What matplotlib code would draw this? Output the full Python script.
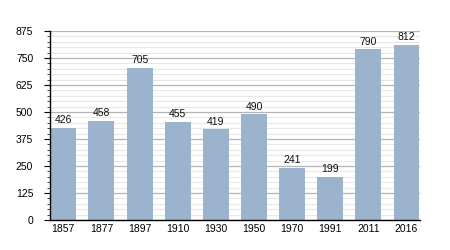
import matplotlib
matplotlib.use("Agg")
import matplotlib.pyplot as plt
from matplotlib.ticker import MultipleLocator

plt.rcParams["font.family"] = ["Liberation Sans", "DejaVu Sans"]

years = ["1857", "1877", "1897", "1910", "1930", "1950", "1970", "1991", "2011", "2016"]
population = [426, 458, 705, 455, 419, 490, 241, 199, 790, 812]
yticks = [0, 125, 250, 375, 500, 625, 750, 875]

fig = plt.figure(figsize=(4.5, 2.5), dpi=100)
ax = fig.add_axes([0.111, 0.12, 0.822, 0.756])

x = list(range(len(years)))
ax.set_axisbelow(True)
ax.yaxis.set_minor_locator(MultipleLocator(25))
ax.grid(axis="y", which="minor", color="#e8e8e8", linewidth=0.8)
ax.grid(axis="y", which="major", color="#b4b4b4", linewidth=0.9)
ax.bar(x, population, width=0.68, color="#9bb3cd")
for xi, v in zip(x, population):
    ax.text(xi, v + 12, str(v), ha="center", va="bottom", fontsize=7.5, color="#111111")

ax.set_xlim(-0.35, 9.35)
ax.set_ylim(0, 875)
ax.set_yticks(yticks)
ax.set_yticklabels([str(t) for t in yticks], fontsize=7.5)
ax.set_xticks(x)
ax.set_xticklabels(years, fontsize=7.5)
ax.tick_params(axis="x", length=0, pad=3)
ax.tick_params(axis="y", which="major", length=4, width=0.8, pad=8)
ax.tick_params(axis="y", which="minor", length=2.5, width=0.5)
for s in ["top", "right"]:
    ax.spines[s].set_visible(False)
ax.spines["left"].set_linewidth(1.0)
ax.spines["bottom"].set_linewidth(1.0)

fig.savefig("out.png", dpi=100)
